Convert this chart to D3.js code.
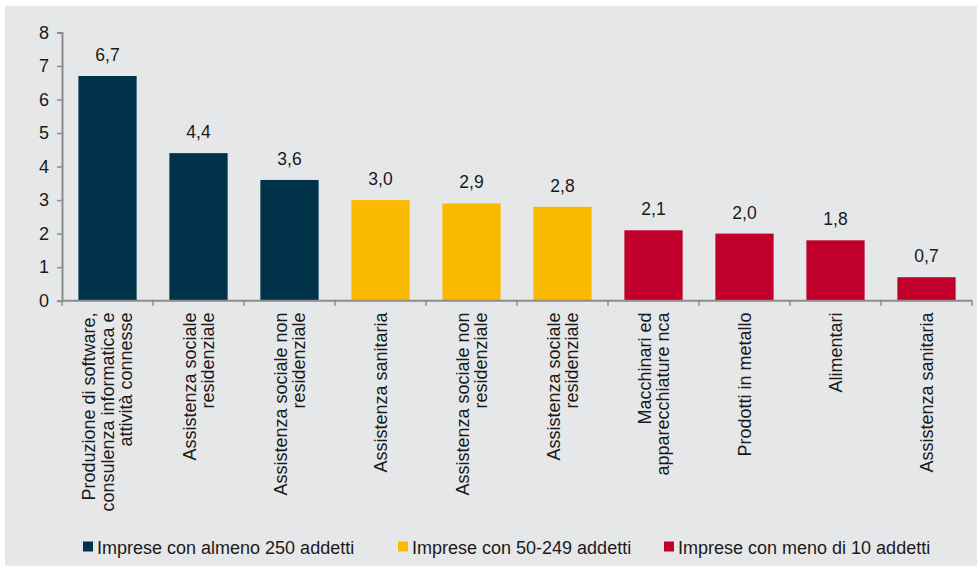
<!DOCTYPE html>
<html><head><meta charset="utf-8">
<script src="https://cdn.jsdelivr.net/npm/d3@7"></script>
<style>
html,body{margin:0;padding:0;background:#fff;}
svg{display:block;font-family:"Liberation Sans",Arial,sans-serif;}
</style></head>
<body>
<svg id="c" width="977" height="567"></svg>
<script>
const categories = [
  ["Produzione di software,","consulenza informatica e","attività connesse"],
  ["Assistenza sociale","residenziale"],
  ["Assistenza sociale non","residenziale"],
  ["Assistenza sanitaria"],
  ["Assistenza sociale non","residenziale"],
  ["Assistenza sociale","residenziale"],
  ["Macchinari ed","apparecchiature nca"],
  ["Prodotti in metallo"],
  ["Alimentari"],
  ["Assistenza sanitaria"]
];
const values = [6.7, 4.4, 3.6, 3.0, 2.9, 2.8, 2.1, 2.0, 1.8, 0.7];
const groups = [0, 0, 0, 1, 1, 1, 2, 2, 2, 2];
const seriesNames = ["Imprese con almeno 250 addetti","Imprese con 50-249 addetti","Imprese con meno di 10 addetti"];
const seriesColors = ["#00324A","#FBBA00","#C0002B"];
const yTicks = [0,1,2,3,4,5,6,7,8];

const svg = d3.select("#c");
svg.append("rect").attr("x",5).attr("y",6).attr("width",972).attr("height",560).attr("fill","#E6E7E9");

const x = d3.scaleBand().domain(d3.range(values.length)).range([62, 972]).paddingInner(0.36).paddingOuter(0.18);
const y = d3.scaleLinear().domain([0, 8]).range([300.7, 32.4]);

// bars
svg.append("g").selectAll("rect").data(values).join("rect")
  .attr("x",(d,i)=>x(i)).attr("y",d=>y(d))
  .attr("width",x.bandwidth()).attr("height",d=>y(0)-y(d))
  .attr("fill",(d,i)=>seriesColors[groups[i]]);

// value labels
const fmt = d => d.toFixed(1).replace(".", ",");
svg.append("g").selectAll("text").data(values).join("text")
  .attr("x",(d,i)=>x(i)+x.bandwidth()/2).attr("y",d=>y(d)-15)
  .attr("text-anchor","middle").attr("font-size",17.5).attr("fill","#1a1a1a")
  .text(fmt);

// y axis
const ya = svg.append("g").attr("transform","translate(62,0)")
  .call(d3.axisLeft(y).tickValues(yTicks).tickSize(5).tickPadding(8).tickFormat(d3.format("d")));
ya.select(".domain").attr("stroke","#8c8c8c").attr("stroke-width",2);
ya.selectAll(".tick line").attr("stroke","#8c8c8c").attr("stroke-width",1.5);
ya.selectAll(".tick text").attr("font-size",18).attr("fill","#1a1a1a").attr("font-family","Liberation Sans, Arial, sans-serif");

// x axis with boundary ticks
const step = x.step();
const xa = svg.append("g");
xa.append("line").attr("x1",62).attr("x2",972).attr("y1",y(0)).attr("y2",y(0)).attr("stroke","#8c8c8c").attr("stroke-width",2);
xa.selectAll("line.t").data(d3.range(values.length+1)).join("line").attr("class","t")
  .attr("x1",i=>62+i*step).attr("x2",i=>62+i*step)
  .attr("y1",y(0)).attr("y2",y(0)+5).attr("stroke","#8c8c8c").attr("stroke-width",1.5);

// x labels rotated
const lh = 18.5;
const lg = svg.append("g").selectAll("g").data(categories).join("g")
  .attr("transform",(d,i)=>`translate(${x(i)+x.bandwidth()/2},312.5) rotate(-90)`);
lg.each(function(lines){
  const g = d3.select(this);
  const n = lines.length;
  lines.forEach((t,j)=>{
    g.append("text").attr("x",0).attr("y",(j-(n-1)/2)*lh).attr("dy","0.35em")
      .attr("text-anchor","end").attr("font-size",18).attr("fill","#1a1a1a").text(t);
  });
});

// legend
const legX = [83, 398, 664];
const lgd = svg.append("g").selectAll("g").data(seriesNames).join("g")
  .attr("transform",(d,i)=>`translate(${legX[i]},541.5)`);
lgd.append("rect").attr("width",10).attr("height",10).attr("fill",(d,i)=>seriesColors[i]);
lgd.append("text").attr("x",14).attr("y",12).attr("font-size",18).attr("fill","#1a1a1a").text(d=>d);
</script>
</body></html>
